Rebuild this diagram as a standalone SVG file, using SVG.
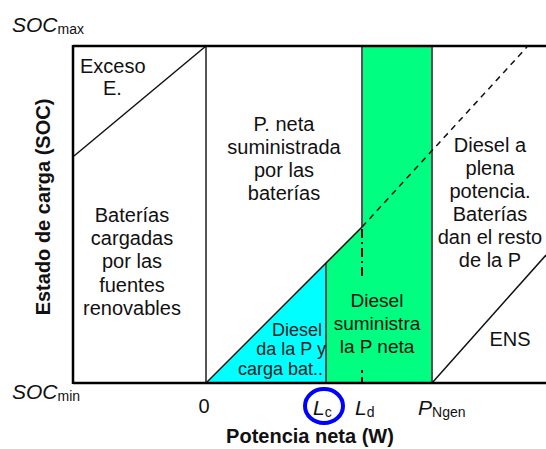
<svg xmlns="http://www.w3.org/2000/svg" width="546" height="449" viewBox="0 0 546 449">
<style>
text{font-family:"Liberation Sans",Arial,sans-serif;fill:#111;}
.lbl{font-size:20px;text-anchor:middle;}
.grn{font-size:19px;text-anchor:middle;}
.cyn{font-size:18px;text-anchor:end;fill:#222;}
.ax{font-size:21px;font-style:italic;}
.sub{font-size:14px;font-style:normal;}
.bold{font-size:20px;font-weight:bold;text-anchor:middle;}
.vline{stroke:#555;stroke-width:2;fill:none;}
.frame{stroke:#000;stroke-width:2.5;fill:none;}
.diag{stroke:#111;stroke-width:1.5;fill:none;}
</style>
<rect width="546" height="449" fill="#fff"/>
<g id="regions">
<polygon id="green-band" points="326,263 362,227 362,46 432,46 432,383 326,383" fill="#00FF80"/>
<polygon id="cyan-triangle" points="206,383 326,263 326,383" fill="#00FFFF"/>
</g>
<g id="connectors">
<line class="vline" x1="206" y1="46" x2="206" y2="383"/>
<line class="vline" x1="326" y1="263" x2="326" y2="383"/>
<line class="vline" x1="362" y1="46" x2="362" y2="227"/>
<line class="vline" x1="432" y1="46" x2="432" y2="383"/>
<line class="diag" x1="74" y1="156" x2="206" y2="46"/>
<line class="diag" x1="206" y1="383" x2="362" y2="227"/>
<line class="diag" x1="362" y1="227" x2="527" y2="47" stroke-dasharray="6,5"/>
<line class="diag" x1="432" y1="383" x2="546" y2="255"/>
<line x1="362" y1="229" x2="362" y2="280" stroke="#000" stroke-width="2" stroke-dasharray="9,4,2,4"/>
<line x1="362" y1="370" x2="362" y2="383" stroke="#000" stroke-width="2" stroke-dasharray="3,4,9,4"/>
<line class="frame" x1="73" y1="46" x2="546" y2="46"/>
<line class="frame" x1="73" y1="383" x2="546" y2="383"/>
<line class="frame" x1="73" y1="45" x2="73" y2="384"/>
</g>
<g id="node-exceso">
<text x="80" y="73" font-size="20">Exceso</text>
<text x="103" y="95" font-size="20">E.</text>
</g>
<g id="node-baterias-cargadas">
<text class="lbl" x="132" y="222">Baterías</text>
<text class="lbl" x="132" y="245">cargadas</text>
<text class="lbl" x="132" y="268">por las</text>
<text class="lbl" x="132" y="292">fuentes</text>
<text class="lbl" x="132" y="315">renovables</text>
</g>
<g id="node-p-neta">
<text class="lbl" x="284" y="131">P. neta</text>
<text class="lbl" x="284" y="154">suministrada</text>
<text class="lbl" x="284" y="177">por las</text>
<text class="lbl" x="284" y="200">baterías</text>
</g>
<g id="node-diesel-carga">
<text class="cyn" x="322" y="336">Diesel</text>
<text class="cyn" x="326" y="355">da la P y</text>
<text class="cyn" x="323" y="375">carga bat..</text>
</g>
<g id="node-diesel-neta">
<text class="grn" x="377" y="307">Diesel</text>
<text class="grn" x="377" y="330">suministra</text>
<text class="grn" x="377" y="353">la P neta</text>
</g>
<g id="node-diesel-plena">
<text class="lbl" x="490" y="152">Diesel a</text>
<text class="lbl" x="490" y="175">plena</text>
<text class="lbl" x="490" y="198">potencia.</text>
<text class="lbl" x="490" y="221">Baterías</text>
<text class="lbl" x="490" y="244">dan el resto</text>
<text class="lbl" x="490" y="267">de la P</text>
</g>
<g id="node-ens">
<text class="lbl" x="510" y="346">ENS</text>
</g>
<g id="axes-labels">
<text class="ax" x="12" y="32">SOC<tspan class="sub" dy="2">max</tspan></text>
<text class="ax" x="12" y="399">SOC<tspan class="sub" dy="2">min</tspan></text>
<text x="204" y="413" font-size="20" text-anchor="middle">0</text>
<text class="ax" x="313" y="415">L<tspan class="sub" dy="2">c</tspan></text>
<text class="ax" x="355" y="415">L<tspan class="sub" dy="2">d</tspan></text>
<text class="ax" x="418" y="415">P<tspan class="sub" dy="2">Ngen</tspan></text>
<ellipse cx="324" cy="406" rx="19" ry="17" fill="none" stroke="#0000FF" stroke-width="4"/>
<text class="bold" x="310" y="443">Potencia neta (W)</text>
<text class="bold" transform="translate(50,207) rotate(-90)">Estado de carga (SOC)</text>
</g>
</svg>
